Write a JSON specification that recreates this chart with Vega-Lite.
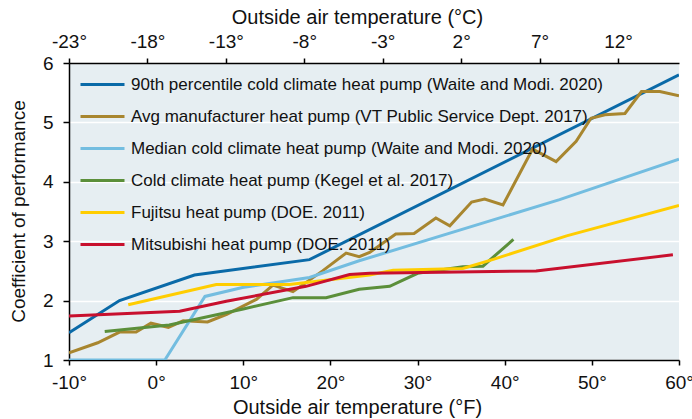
{
  "$schema": "https://vega.github.io/schema/vega-lite/v6.json",
  "width": 610,
  "height": 297,
  "autosize": {"type": "none"},
  "padding": {"left": 69, "top": 63, "right": 13, "bottom": 59},
  "background": "white",
  "title": {"text": "Source: IPMAM, 2021", "orient": "bottom", "anchor": "start", "dx": -64, "offset": 2, "fontSize": 17, "font": "Liberation Sans", "fontWeight": "normal", "color": "#222222"},
  "config": {
    "font": "Liberation Sans",
    "view": {"fill": "#e6eef2", "stroke": null},
    "axis": {"labelFont": "Liberation Sans", "titleFont": "Liberation Sans", "labelColor": "#111111", "titleColor": "#111111", "titleFontWeight": "normal", "domainColor": "#000000", "tickColor": "#000000", "domainWidth": 1.5, "tickWidth": 1.5, "labelFlush": false, "labelOverlap": false}
  },
  "data": {"values": [
    {"series": "90th percentile cold climate heat pump (Waite and Modi. 2020)", "x": -10, "y": 1.46},
    {"series": "90th percentile cold climate heat pump (Waite and Modi. 2020)", "x": -4.2, "y": 2.0},
    {"series": "90th percentile cold climate heat pump (Waite and Modi. 2020)", "x": 4.4, "y": 2.43},
    {"series": "90th percentile cold climate heat pump (Waite and Modi. 2020)", "x": 17.6, "y": 2.69},
    {"series": "90th percentile cold climate heat pump (Waite and Modi. 2020)", "x": 60, "y": 5.8},

    {"series": "Avg manufacturer heat pump (VT Public Service Dept. 2017)", "x": -10, "y": 1.12},
    {"series": "Avg manufacturer heat pump (VT Public Service Dept. 2017)", "x": -6.7, "y": 1.29},
    {"series": "Avg manufacturer heat pump (VT Public Service Dept. 2017)", "x": -4.2, "y": 1.47},
    {"series": "Avg manufacturer heat pump (VT Public Service Dept. 2017)", "x": -2.3, "y": 1.47},
    {"series": "Avg manufacturer heat pump (VT Public Service Dept. 2017)", "x": -0.6, "y": 1.62},
    {"series": "Avg manufacturer heat pump (VT Public Service Dept. 2017)", "x": 1.4, "y": 1.55},
    {"series": "Avg manufacturer heat pump (VT Public Service Dept. 2017)", "x": 3.1, "y": 1.66},
    {"series": "Avg manufacturer heat pump (VT Public Service Dept. 2017)", "x": 5.9, "y": 1.64},
    {"series": "Avg manufacturer heat pump (VT Public Service Dept. 2017)", "x": 8.1, "y": 1.77},
    {"series": "Avg manufacturer heat pump (VT Public Service Dept. 2017)", "x": 11.5, "y": 2.02},
    {"series": "Avg manufacturer heat pump (VT Public Service Dept. 2017)", "x": 13.4, "y": 2.26},
    {"series": "Avg manufacturer heat pump (VT Public Service Dept. 2017)", "x": 15.7, "y": 2.15},
    {"series": "Avg manufacturer heat pump (VT Public Service Dept. 2017)", "x": 19.1, "y": 2.5},
    {"series": "Avg manufacturer heat pump (VT Public Service Dept. 2017)", "x": 21.8, "y": 2.8},
    {"series": "Avg manufacturer heat pump (VT Public Service Dept. 2017)", "x": 23.3, "y": 2.74},
    {"series": "Avg manufacturer heat pump (VT Public Service Dept. 2017)", "x": 24.5, "y": 2.81},
    {"series": "Avg manufacturer heat pump (VT Public Service Dept. 2017)", "x": 27.5, "y": 3.12},
    {"series": "Avg manufacturer heat pump (VT Public Service Dept. 2017)", "x": 29.6, "y": 3.13},
    {"series": "Avg manufacturer heat pump (VT Public Service Dept. 2017)", "x": 32.1, "y": 3.39},
    {"series": "Avg manufacturer heat pump (VT Public Service Dept. 2017)", "x": 33.7, "y": 3.26},
    {"series": "Avg manufacturer heat pump (VT Public Service Dept. 2017)", "x": 36.2, "y": 3.66},
    {"series": "Avg manufacturer heat pump (VT Public Service Dept. 2017)", "x": 37.7, "y": 3.71},
    {"series": "Avg manufacturer heat pump (VT Public Service Dept. 2017)", "x": 39.8, "y": 3.61},
    {"series": "Avg manufacturer heat pump (VT Public Service Dept. 2017)", "x": 43.2, "y": 4.55},
    {"series": "Avg manufacturer heat pump (VT Public Service Dept. 2017)", "x": 45.9, "y": 4.34},
    {"series": "Avg manufacturer heat pump (VT Public Service Dept. 2017)", "x": 48.2, "y": 4.68},
    {"series": "Avg manufacturer heat pump (VT Public Service Dept. 2017)", "x": 49.9, "y": 5.07},
    {"series": "Avg manufacturer heat pump (VT Public Service Dept. 2017)", "x": 51.5, "y": 5.13},
    {"series": "Avg manufacturer heat pump (VT Public Service Dept. 2017)", "x": 53.8, "y": 5.15},
    {"series": "Avg manufacturer heat pump (VT Public Service Dept. 2017)", "x": 55.7, "y": 5.52},
    {"series": "Avg manufacturer heat pump (VT Public Service Dept. 2017)", "x": 57.8, "y": 5.52},
    {"series": "Avg manufacturer heat pump (VT Public Service Dept. 2017)", "x": 60, "y": 5.45},

    {"series": "Median cold climate heat pump (Waite and Modi. 2020)", "x": -10, "y": 1.0},
    {"series": "Median cold climate heat pump (Waite and Modi. 2020)", "x": 1.0, "y": 1.0},
    {"series": "Median cold climate heat pump (Waite and Modi. 2020)", "x": 5.6, "y": 2.07},
    {"series": "Median cold climate heat pump (Waite and Modi. 2020)", "x": 9.9, "y": 2.22},
    {"series": "Median cold climate heat pump (Waite and Modi. 2020)", "x": 17.6, "y": 2.39},
    {"series": "Median cold climate heat pump (Waite and Modi. 2020)", "x": 23.3, "y": 2.67},
    {"series": "Median cold climate heat pump (Waite and Modi. 2020)", "x": 46.3, "y": 3.7},
    {"series": "Median cold climate heat pump (Waite and Modi. 2020)", "x": 60, "y": 4.38},

    {"series": "Cold climate heat pump (Kegel et al. 2017)", "x": -5.9, "y": 1.48},
    {"series": "Cold climate heat pump (Kegel et al. 2017)", "x": 1.5, "y": 1.59},
    {"series": "Cold climate heat pump (Kegel et al. 2017)", "x": 10, "y": 1.86},
    {"series": "Cold climate heat pump (Kegel et al. 2017)", "x": 15.7, "y": 2.05},
    {"series": "Cold climate heat pump (Kegel et al. 2017)", "x": 19.5, "y": 2.05},
    {"series": "Cold climate heat pump (Kegel et al. 2017)", "x": 23.3, "y": 2.19},
    {"series": "Cold climate heat pump (Kegel et al. 2017)", "x": 26.8, "y": 2.24},
    {"series": "Cold climate heat pump (Kegel et al. 2017)", "x": 30, "y": 2.46},
    {"series": "Cold climate heat pump (Kegel et al. 2017)", "x": 35.2, "y": 2.57},
    {"series": "Cold climate heat pump (Kegel et al. 2017)", "x": 37.5, "y": 2.58},
    {"series": "Cold climate heat pump (Kegel et al. 2017)", "x": 41, "y": 3.03},

    {"series": "Fujitsu heat pump (DOE. 2011)", "x": -3.2, "y": 1.93},
    {"series": "Fujitsu heat pump (DOE. 2011)", "x": 6.9, "y": 2.27},
    {"series": "Fujitsu heat pump (DOE. 2011)", "x": 15.3, "y": 2.27},
    {"series": "Fujitsu heat pump (DOE. 2011)", "x": 24.5, "y": 2.43},
    {"series": "Fujitsu heat pump (DOE. 2011)", "x": 27.2, "y": 2.51},
    {"series": "Fujitsu heat pump (DOE. 2011)", "x": 35.2, "y": 2.54},
    {"series": "Fujitsu heat pump (DOE. 2011)", "x": 38.6, "y": 2.69},
    {"series": "Fujitsu heat pump (DOE. 2011)", "x": 47.1, "y": 3.09},
    {"series": "Fujitsu heat pump (DOE. 2011)", "x": 60, "y": 3.6},

    {"series": "Mitsubishi heat pump (DOE. 2011)", "x": -10, "y": 1.74},
    {"series": "Mitsubishi heat pump (DOE. 2011)", "x": 2.7, "y": 1.82},
    {"series": "Mitsubishi heat pump (DOE. 2011)", "x": 8.05, "y": 1.99},
    {"series": "Mitsubishi heat pump (DOE. 2011)", "x": 17.2, "y": 2.24},
    {"series": "Mitsubishi heat pump (DOE. 2011)", "x": 22.2, "y": 2.44},
    {"series": "Mitsubishi heat pump (DOE. 2011)", "x": 24.5, "y": 2.46},
    {"series": "Mitsubishi heat pump (DOE. 2011)", "x": 43.6, "y": 2.5},
    {"series": "Mitsubishi heat pump (DOE. 2011)", "x": 59.3, "y": 2.77}
  ]},
  "layer": [
    {
      "mark": {"type": "line", "strokeWidth": 3, "clip": true},
      "encoding": {
        "x": {"field": "x", "type": "quantitative", "scale": {"domain": [-10, 60], "nice": false, "zero": false},
              "axis": {"orient": "bottom", "values": [-10, 0, 10, 20, 30, 40, 50, 60], "labelExpr": "datum.value + '°'", "labelFontSize": 19, "labelPadding": 8, "tickSize": 5, "grid": false, "labelFlush": false,
                       "title": "Outside air temperature (°F)", "titleFontSize": 20, "titleX": 288, "titleY": 53, "titleBaseline": "alphabetic", "titleAlign": "center"}},
        "y": {"field": "y", "type": "quantitative", "scale": {"domain": [1, 6], "nice": false, "zero": false},
              "axis": {"values": [1, 2, 3, 4, 5, 6], "labelFontSize": 19, "labelPadding": 10, "tickSize": 6, "grid": true, "gridColor": "#ffffff", "gridWidth": 1.5, "labelFlush": false,
                       "title": "Coefficient of performance", "titleFontSize": 19, "titleX": -51, "titleY": 148, "titleAngle": -90, "titleBaseline": "middle", "titleAlign": "center"}},
        "color": {"field": "series", "type": "nominal",
                  "scale": {"domain": ["90th percentile cold climate heat pump (Waite and Modi. 2020)", "Avg manufacturer heat pump (VT Public Service Dept. 2017)", "Median cold climate heat pump (Waite and Modi. 2020)", "Cold climate heat pump (Kegel et al. 2017)", "Fujitsu heat pump (DOE. 2011)", "Mitsubishi heat pump (DOE. 2011)"],
                            "range": ["#0a6aa8", "#a8862f", "#73bde0", "#5b8f3a", "#ffcd00", "#c8102e"]},
                  "legend": {"orient": "none", "legendX": 10, "legendY": -2, "title": null, "symbolType": "stroke", "symbolSize": 1936, "symbolStrokeWidth": 3, "labelFontSize": 17, "labelOffset": 5, "labelLimit": 700, "rowPadding": -12, "padding": 0, "labelColor": "#111111", "labelFont": "Liberation Sans"}}
      }
    },
    {
      "mark": {"type": "point", "opacity": 0},
      "encoding": {
        "x": {"field": "x", "type": "quantitative",
              "axis": {"orient": "top", "values": [-10, -1, 8, 17, 26, 35, 44, 53], "labelExpr": "round((datum.value - 32) * 5 / 9) + '°'", "labelFontSize": 19, "labelPadding": 7, "tickSize": 5, "grid": false, "labelFlush": false,
                       "title": "Outside air temperature (°C)", "titleFontSize": 20, "titleX": 288, "titleY": -40, "titleBaseline": "alphabetic", "titleAlign": "center"}}
      }
    }
  ],
  "resolve": {"axis": {"x": "independent"}}
}
